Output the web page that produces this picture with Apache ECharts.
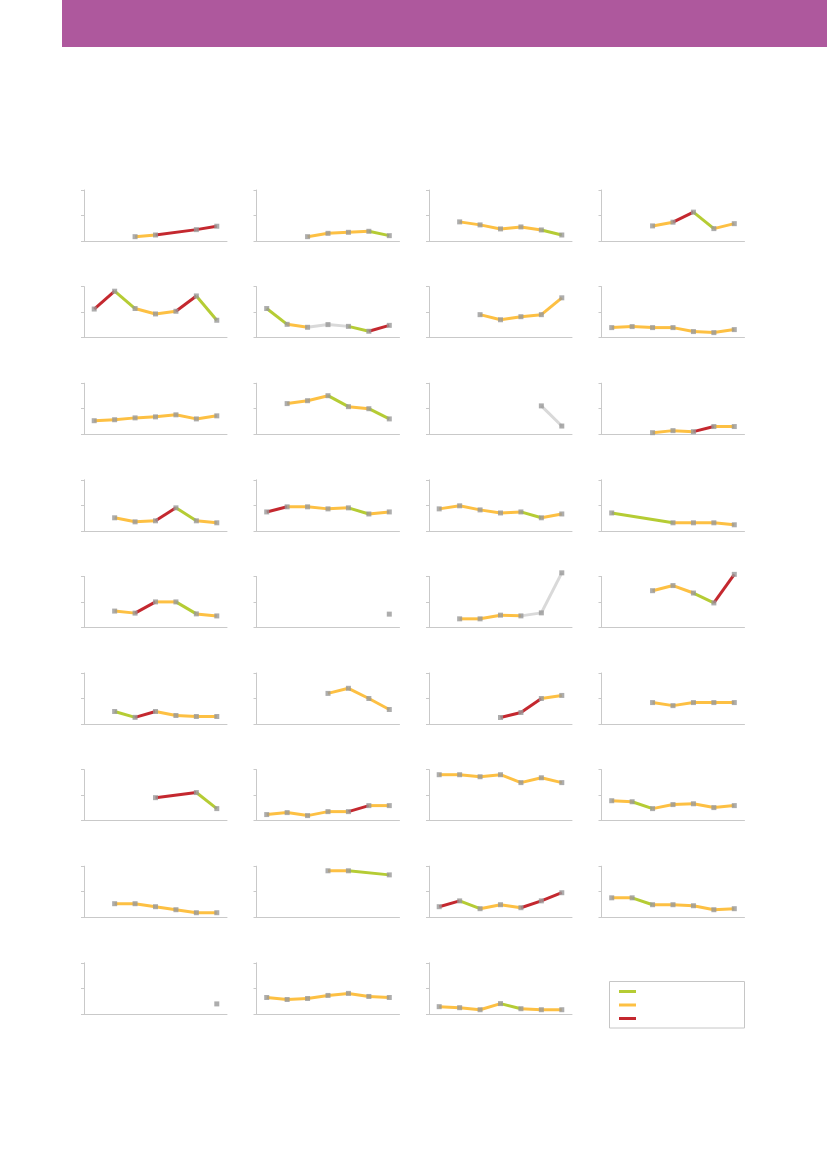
<!DOCTYPE html>
<html><head><meta charset="utf-8">
<script src="https://cdn.jsdelivr.net/npm/echarts@6/dist/echarts.min.js"></script>
<style>html,body{margin:0;padding:0;background:#fff}#c{width:827px;height:1169px}</style>
</head><body><div id="c"></div>
<script>
// Seven periods per panel; values as share of the panel's top tick (100)
const categories = ['1','2','3','4','5','6','7'];
const yTicks = [0, 50, 100];
// segment codes: g = falling, o = stable, r = rising, x = not comparable
const v11 = [null,null,8.5,11.8,null,22.3,29];      const s11 = ['o','r','r'];
const v12 = [null,null,8.5,15,17,19,10.5];          const s12 = ['o','o','o','g'];
const v13 = [null,37.5,31.6,23.7,27.6,21.7,11.8];   const s13 = ['o','o','o','o','g'];
const v14 = [null,null,29.6,36.9,56.6,24.3,34];     const s14 = ['o','r','g','o'];
const v21 = [56,91,57,46.4,51.6,81.7,34];           const s21 = ['r','g','o','o','r','g'];
const v22 = [57,26,20.2,25.5,22,12.4,24];           const s22 = ['g','o','x','x','g','r'];
const v23 = [null,null,45,35,41,45,78];             const s23 = ['o','o','o','o','r'];
const v24 = [19.6,21.6,19.6,19.6,11.8,9.8,15.7];    const s24 = ['o','o','o','o','o','o'];
const v31 = [26.5,28.4,32,34,38,30,36];             const s31 = ['o','o','o','o','o','o'];
const v32 = [null,60,65.7,75.5,54,50,30];           const s32 = ['o','o','g','o','g'];
const v33 = [null,null,null,null,null,55.5,16];     const s33 = ['x'];
const v34 = [null,null,3,7,5,15,15];                const s34 = ['o','o','r','o'];
const v41 = [null,25.5,17.6,19.6,45,19.6,15.7];     const s41 = ['o','o','r','g','o'];
const v42 = [37,47,47,43,45,33,37];                 const s42 = ['r','o','o','o','g','o'];
const v43 = [43,49,41,35,37,25.5,33];               const s43 = ['o','o','o','o','g','o'];
const v44 = [35,null,null,15.7,15.7,15.7,11.8];     const s44 = ['g','o','o','o'];
const v51 = [null,32,28,50,50,26.5,22.5];           const s51 = ['o','r','o','g','o'];
const v52 = [null,null,null,null,null,null,26];     const s52 = [];
const v53 = [null,16.8,16.8,24,22.6,28.5,107];      const s53 = ['o','o','o','x','x'];
const v54 = [null,null,72,82,67.4,48,104];          const s54 = ['o','o','g','r'];
const v61 = [null,24.5,13,24.5,16.7,14.7,14.7];     const s61 = ['g','r','o','o','o'];
const v62 = [null,null,null,60,70,50,28.4];         const s62 = ['o','o','o'];
const v63 = [null,null,null,12.7,22.5,50,56];       const s63 = ['r','r','o'];
const v64 = [null,null,42,36,42,42,42];             const s64 = ['o','o','o','o'];
const v71 = [null,null,null,45,null,55,23.5];       const s71 = ['r','g'];
const v72 = [11.8,15.7,9.8,17.6,17.6,29.4,29.4];    const s72 = ['o','o','o','o','r','o'];
const v73 = [90,90,86,90,74.5,84,74.5];             const s73 = ['o','o','o','o','o','o'];
const v74 = [39,37,23.5,31.4,33,25.5,29.4];         const s74 = ['o','g','o','o','o','o'];
const v81 = [null,26.5,26.5,20.6,14.7,8.8,8.8];     const s81 = ['o','o','o','o','o'];
const v82 = [null,null,null,91,91,null,83];         const s82 = ['o','g'];
const v83 = [20.6,32,16.7,24.5,18.6,32,48];         const s83 = ['r','g','o','o','r','r'];
const v84 = [38,38,24.5,24.5,22.5,14.7,16.7];       const s84 = ['o','g','o','o','o','o'];
const v91 = [null,null,null,null,null,null,19.4];   const s91 = [];
const v92 = [32,28,30,36,40,34,32];                 const s92 = ['o','o','o','o','o','o'];
const v93 = [14,12,8,20,10,8,8];                    const s93 = ['o','o','o','g','o','o'];

const panels = [
  [v11,s11],[v12,s12],[v13,s13],[v14,s14],
  [v21,s21],[v22,s22],[v23,s23],[v24,s24],
  [v31,s31],[v32,s32],[v33,s33],[v34,s34],
  [v41,s41],[v42,s42],[v43,s43],[v44,s44],
  [v51,s51],[v52,s52],[v53,s53],[v54,s54],
  [v61,s61],[v62,s62],[v63,s63],[v64,s64],
  [v71,s71],[v72,s72],[v73,s73],[v74,s74],
  [v81,s81],[v82,s82],[v83,s83],[v84,s84],
  [v91,s91],[v92,s92],[v93,s93]
];
const COLORS = {g:'#b5cc34', o:'#fdc043', r:'#c4282f', x:'#d9d9d9'};
const AXIS = '#c9c9c9';

const grids=[], xAxes=[], yAxes=[], series=[];
panels.forEach(([vals, segs], i) => {
  const row = Math.floor(i/4), col = i%4;
  grids.push({left: 84 + col*172.5, top: 190 + row*96.6, width: 143, height: 51});
  xAxes.push({gridIndex:i, type:'category', data:categories, boundaryGap:true,
    axisLine:{lineStyle:{color:AXIS,width:1}},
    axisTick:{alignWithLabel:true,length:3,lineStyle:{color:AXIS}},
    axisLabel:{show:false}, splitLine:{show:false}});
  yAxes.push({gridIndex:i, type:'value', min:yTicks[0], max:yTicks[2], interval:yTicks[1],
    axisLine:{show:true,lineStyle:{color:AXIS,width:1}},
    axisTick:{show:true,length:3,lineStyle:{color:AXIS}},
    axisLabel:{show:false}, splitLine:{show:false}});
  const pts = [];
  vals.forEach((v,k)=>{ if(v!==null) pts.push([k,v]); });
  for (let k=0; k<pts.length-1; k++) {
    series.push({type:'line', xAxisIndex:i, yAxisIndex:i, data:[pts[k],pts[k+1]],
      symbol:'none', clip:false, silent:true, animation:false,
      lineStyle:{color:COLORS[segs[k]], width:3}, z:2});
  }
  series.push({type:'scatter', xAxisIndex:i, yAxisIndex:i, data:pts, symbol:'rect',
    symbolSize:5, clip:false, itemStyle:{color:'#999999'}, animation:false, z:3});
});

const chart = echarts.init(document.getElementById('c'), null, {renderer:'canvas'});
chart.setOption({
  animation:false,
  grid:grids, xAxis:xAxes, yAxis:yAxes, series:series,
  graphic:[
    {type:'rect', left:62, top:0, shape:{width:765,height:47}, style:{fill:'#ae589d'}},
    {type:'rect', shape:{x:609.5,y:981.5,width:135,height:46.5}, style:{fill:'none',stroke:'#c6c6c6',lineWidth:1}},
    {type:'line', shape:{x1:619,y1:991.5,x2:636,y2:991.5}, style:{stroke:COLORS.g,lineWidth:3}},
    {type:'line', shape:{x1:619,y1:1005,x2:636,y2:1005}, style:{stroke:COLORS.o,lineWidth:3}},
    {type:'line', shape:{x1:619,y1:1018.5,x2:636,y2:1018.5}, style:{stroke:COLORS.r,lineWidth:3}}
  ]
});
</script></body></html>
